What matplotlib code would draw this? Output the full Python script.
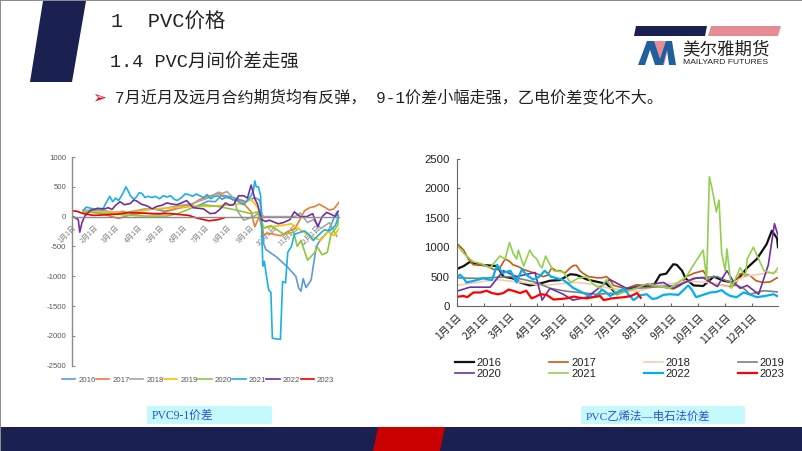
import matplotlib
matplotlib.use('Agg')
import matplotlib.pyplot as plt
from matplotlib.patches import Polygon, Rectangle, FancyBboxPatch

W, H = 802, 451
plt.rcParams['font.family'] = ['Liberation Mono', 'Noto Sans CJK SC', 'DejaVu Sans']

YEARS = ['2016', '2017', '2018', '2019', '2020', '2021', '2022', '2023']
MONTH_DAYS = [0, 31, 60, 91, 121, 152, 182, 213, 244, 274, 305, 335]
MONTH_LABELS = ['1月1日', '2月1日', '3月1日', '4月1日', '5月1日', '6月1日',
                '7月1日', '8月1日', '9月1日', '10月1日', '11月1日', '12月1日']
LEFT_TICKS = [1000, 500, 0, -500, -1000, -1500, -2000, -2500]
RIGHT_TICKS = [0, 500, 1000, 1500, 2000, 2500]

# --- PVC 9-1 spread
L2016_d = [16, 24, 32, 44, 56, 70, 84, 98, 112, 126, 140, 154, 170, 186, 196, 205, 214, 226, 238, 250, 256, 259, 262, 265, 280, 295, 306, 310, 313, 316, 320, 327, 334, 340, 350, 362, 365]
L2016_v = [60, 90, 70, 100, 60, 90, 50, 110, 130, 90, 120, 190, 170, 260, 250, 360, 340, 300, 250, 320, 280, 150, -450, -550, -680, -850, -1000, -1200, -1250, -1040, -1190, -1060, -500, -380, -250, 80, -50]
L2017_d = [16, 30, 44, 52, 64, 80, 100, 120, 140, 160, 175, 190, 200, 208, 215, 224, 232, 245, 250, 256, 262, 270, 285, 295, 305, 318, 325, 332, 338, 345, 352, 358, 365]
L2017_v = [90, 70, 40, 10, -30, 30, 60, 40, 130, 170, 290, 350, 390, 330, 310, 270, 260, 80, -170, 0, -300, -280, -320, -250, -200, 100, 150, 170, 210, 160, 110, 130, 240]
L2018_d = [16, 40, 70, 100, 120, 140, 165, 190, 200, 206, 212, 222, 226, 235, 248, 258, 262, 295, 305, 312, 322, 330, 340, 352, 362]
L2018_v = [110, 100, 60, 130, 120, 170, 220, 330, 410, 390, 420, 300, 100, -60, 0, 80, 0, 0, 0, 60, -100, -50, -200, -100, -330]
L2019_d = [16, 40, 70, 90, 110, 140, 170, 190, 215, 235, 245, 254, 262, 285, 300, 322, 340, 350, 358, 365]
L2019_v = [90, 80, 70, 80, 130, 150, 180, 170, 200, 220, 290, 150, -190, -150, -120, -300, -400, -250, -320, -200]
L2020_d = [16, 40, 70, 100, 130, 145, 165, 180, 200, 225, 245, 253, 262, 272, 290, 303, 308, 313, 322, 332, 335, 342, 349, 354, 363, 365]
L2020_v = [80, 60, 30, 10, 10, 50, 150, 200, 170, 110, 50, 80, -190, -150, -300, -260, -500, -400, -730, -600, -500, -640, -600, -300, -150, 0]
L2021_d = [16, 20, 26, 32, 38, 42, 46, 52, 56, 60, 64, 70, 74, 78, 80, 84, 88, 92, 96, 100, 104, 110, 114, 120, 125, 130, 135, 140, 144, 150, 155, 160, 165, 170, 175, 180, 185, 190, 195, 200, 205, 210, 215, 220, 225, 230, 235, 240, 244, 248, 250, 252, 255, 258, 261, 263, 266, 269, 272, 274, 285, 288, 292, 295, 300, 304, 310, 318, 324, 330, 337, 345, 352, 360, 365]
L2021_v = [110, 160, 140, 120, 130, 110, 210, 340, 250, 310, 270, 390, 500, 410, 350, 300, 320, 400, 390, 320, 340, 320, 340, 300, 350, 330, 350, 290, 270, 320, 380, 370, 340, 380, 350, 320, 370, 300, 340, 350, 290, 320, 330, 280, 280, 230, 200, 280, 330, 430, 600, 500, 500, 350, -830, -750, -1000, -1230, -1270, -2040, -2060, -1090, -1110, -600, -500, -300, -270, -240, -300, -400, -310, -220, -240, -150, 30]
L2022_d = [2, 9, 11, 14, 18, 25, 35, 45, 50, 55, 60, 66, 72, 80, 85, 89, 95, 103, 110, 116, 123, 130, 137, 144, 150, 157, 162, 166, 173, 180, 189, 196, 203, 210, 216, 221, 228, 235, 240, 245, 250, 254, 259, 265, 270, 274, 282, 289, 298, 304, 312, 321, 329, 336, 342, 348, 354, 360, 364]
L2022_v = [0, -50, -260, -100, 10, 100, 140, 130, 150, 120, 190, 250, 200, 220, 280, 260, 210, 180, 130, 170, 190, 230, 210, 200, 230, 270, 200, 150, 140, 130, 50, 60, 130, 230, 190, 200, 350, 350, 310, 530, 300, 200, -50, -80, -60, -80, -120, -100, -50, 80, 0, 0, 50, -170, 0, 70, 40, 0, 90]
L2023_d = [0, 7, 16, 30, 45, 60, 80, 110, 135, 160, 170, 187, 200, 208]
L2023_v = [100, 90, 50, 20, 30, 40, 70, 50, 50, 20, -20, -70, -50, -20]

# --- PVC ethylene - carbide spread
R2016_d = [2, 8, 15, 26, 46, 53, 64, 72, 83, 94, 106, 117, 129, 136, 148, 163, 170, 182, 197, 212, 223, 231, 238, 246, 250, 256, 260, 269, 280, 292, 303, 314, 322, 330, 341, 352, 358, 364, 365]
R2016_v = [640, 680, 750, 700, 680, 500, 470, 400, 350, 380, 430, 440, 540, 530, 450, 400, 380, 200, 300, 340, 330, 530, 550, 710, 700, 600, 470, 350, 340, 500, 430, 400, 500, 650, 800, 1050, 1280, 1150, 1000]
R2017_d = [2, 8, 13, 19, 26, 34, 42, 48, 55, 60, 64, 70, 76, 84, 91, 98, 103, 108, 113, 118, 123, 129, 133, 136, 140, 144, 150, 159, 165, 170, 174, 178, 186, 193, 204, 215, 231, 246, 254, 261, 270, 280, 288, 295, 303, 311, 316, 322, 333, 340, 348, 356, 364]
R2017_v = [1040, 950, 800, 700, 700, 680, 620, 620, 800, 760, 700, 670, 620, 580, 550, 500, 520, 650, 600, 600, 560, 650, 690, 690, 600, 550, 500, 480, 480, 500, 450, 350, 320, 300, 360, 350, 330, 290, 350, 500, 560, 600, 400, 360, 350, 330, 350, 550, 520, 430, 400, 410, 480]
R2018_d = [0, 23, 45, 70, 98, 118, 136, 155, 174, 204, 231, 261, 288, 307, 326, 349, 364]
R2018_v = [350, 400, 450, 410, 350, 380, 400, 370, 300, 250, 350, 420, 400, 330, 500, 550, 580]
R2019_d = [0, 23, 61, 91, 106, 125, 159, 182, 204, 250, 273, 296, 311, 326, 333, 349, 364]
R2019_v = [480, 470, 500, 400, 300, 250, 200, 220, 300, 350, 480, 500, 400, 300, 200, 260, 240]
R2020_d = [0, 15, 38, 53, 68, 89, 97, 106, 121, 132, 148, 174, 193, 212, 235, 246, 269, 280, 296, 307, 315, 322, 330, 343, 354, 361, 365]
R2020_v = [250, 320, 320, 600, 500, 570, 100, 300, 200, 100, 150, 450, 300, 350, 400, 300, 470, 480, 330, 600, 400, 300, 350, 200, 700, 1400, 1200]
R2021_d = [0, 9, 19, 28, 38, 49, 55, 60, 64, 68, 70, 76, 83, 87, 91, 94, 97, 101, 106, 110, 121, 129, 138, 148, 155, 163, 170, 182, 204, 216, 242, 261, 269, 280, 284, 287, 290, 295, 298, 301, 305, 307, 312, 322, 328, 330, 337, 343, 349, 360, 365]
R2021_v = [1040, 880, 750, 720, 650, 850, 800, 1080, 900, 800, 950, 680, 950, 850, 800, 700, 650, 850, 700, 600, 580, 400, 470, 500, 370, 300, 450, 200, 300, 380, 300, 500, 700, 950, 450, 2200, 2000, 1600, 1800, 900, 600, 970, 300, 650, 500, 800, 1000, 800, 600, 550, 650]
R2022_d = [0, 4, 8, 11, 20, 30, 40, 46, 52, 61, 68, 74, 80, 87, 94, 100, 107, 114, 120, 125, 132, 140, 148, 155, 160, 165, 170, 174, 182, 190, 196, 201, 208, 216, 222, 227, 235, 242, 252, 263, 267, 272, 280, 288, 295, 301, 306, 311, 318, 326, 334, 341, 350, 360, 364]
R2022_v = [500, 530, 470, 400, 430, 470, 440, 700, 560, 600, 400, 620, 520, 450, 500, 600, 500, 470, 450, 400, 310, 250, 190, 150, 190, 280, 230, 170, 230, 300, 180, 100, 180, 200, 120, 130, 190, 200, 190, 350, 280, 150, 190, 230, 240, 270, 210, 170, 150, 230, 190, 150, 170, 200, 170]
R2023_d = [2, 8, 12, 19, 27, 34, 40, 47, 53, 59, 66, 72, 79, 85, 90, 95, 102, 110, 118, 125, 133, 140, 148, 155, 163, 167, 176, 190, 198, 205, 209]
R2023_v = [160, 170, 150, 230, 230, 260, 220, 200, 220, 280, 250, 220, 260, 130, 160, 200, 190, 110, 120, 130, 160, 140, 130, 150, 170, 100, 130, 150, 170, 220, 140]

LEFT_SERIES = [(L2016_d, L2016_v), (L2017_d, L2017_v), (L2018_d, L2018_v), (L2019_d, L2019_v),
               (L2020_d, L2020_v), (L2021_d, L2021_v), (L2022_d, L2022_v), (L2023_d, L2023_v)]
RIGHT_SERIES = [(R2016_d, R2016_v), (R2017_d, R2017_v), (R2018_d, R2018_v), (R2019_d, R2019_v),
                (R2020_d, R2020_v), (R2021_d, R2021_v), (R2022_d, R2022_v), (R2023_d, R2023_v)]

LEFT_COLORS = ['#5B9BD5', '#ED7D31', '#A5A5A5', '#FFC000', '#8CC63F', '#1AB0E8', '#7030A0', '#F00000']
RIGHT_COLORS = ['#111111', '#C55A11', '#F8CBAD', '#7F7F7F', '#7030A0', '#92D050', '#00B0F0', '#FF0000']

NAVY = '#1A2050'

fig = plt.figure(figsize=(W / 100, H / 100), dpi=100)
bg = fig.add_axes([0, 0, 1, 1])
bg.set_xlim(0, W)
bg.set_ylim(H, 0)
bg.axis('off')

# page frame and decoration
bg.add_patch(Rectangle((0, 0), W, 1.2, color='#8C8C8C', lw=0))
bg.add_patch(Rectangle((0, 0), 1.0, H, color='#8C8C8C', lw=0))
bg.add_patch(Polygon([(43, 1), (86, 1), (72, 82), (30, 82)], color=NAVY, lw=0))
bg.add_patch(Rectangle((1, 426.5), W, 1, color='#A0A4B4', lw=0))
bg.add_patch(Rectangle((1, 427), W, 24, color=NAVY, lw=0))
bg.add_patch(Polygon([(378, 427), (445, 427), (440, 451), (373, 451)], color='#C80000', lw=0))

# logo
bg.add_patch(Polygon([(636, 26), (707, 26), (705, 36), (634, 36)], color=NAVY, lw=0))
bg.add_patch(Polygon([(711, 26), (781, 26), (778, 36), (708, 36)], color='#E88C94', lw=0))
bg.add_patch(Polygon([(650, 41), (670, 41), (664, 65), (656, 65)], color='#E88C94', lw=0))
bg.add_patch(Polygon([(638, 65), (647, 41), (654, 41), (662, 65), (655, 65), (650, 50), (645, 65)], color='#1F5F9E', lw=0))
bg.add_patch(Polygon([(658, 65), (666, 41), (672, 41), (676, 65), (669, 65), (667, 50), (663, 65)], color='#1F5F9E', lw=0))
bg.text(682, 49, '美尔雅期货', fontsize=12.6, color='#222222', va='center', ha='left', family=['Noto Sans CJK SC'])
bg.text(683, 62, 'MAILYARD FUTURES', fontsize=6.1, color='#222222', va='center', ha='left', family=['Liberation Sans'])

# headings
bg.text(111, 21, '1  PVC价格', fontsize=14.7, color='#222222', va='center', ha='left')
bg.text(110, 63, '1.4 PVC月间价差走强', fontsize=13.3, color='#222222', va='center', ha='left')
bg.text(92, 98, '➢', fontsize=12, color='#E00010', va='center', ha='left', family=['DejaVu Sans'])
bg.text(115, 98, '7月近月及远月合约期货均有反弹， 9-1价差小幅走强，乙电价差变化不大。',
        fontsize=11.6, color='#222222', va='center', ha='left')

# caption boxes
for x0, x1, label, fs in [(146, 273, 'PVC9-1价差', 8.4), (580, 746, 'PVC乙烯法—电石法价差', 8.2)]:
    bg.add_patch(FancyBboxPatch((x0 + 1, 406), x1 - x0 - 2, 18, boxstyle='round,pad=0,rounding_size=2',
                                fc='#C4FAFC', ec='none'))
    bg.text(x0 + 6, 416, label, fontsize=fs, color='#2B50D8', va='center', ha='left',
            family=['Liberation Serif', 'Noto Sans CJK SC'])


def px_axes(x0, x1, y_top, y_bot):
    return fig.add_axes([x0 / W, 1 - y_bot / H, (x1 - x0) / W, (y_bot - y_top) / H], facecolor='none')


# left chart
axL = px_axes(71.7, 339, 157, 365.7)
axL.spines['bottom'].set_position(('data', 0))
for (d, v), c, y in zip(LEFT_SERIES, LEFT_COLORS, YEARS):
    axL.plot(d, v, color=c, lw=1.2, label=y, solid_joinstyle='round')
axL.set_xlim(0, 365)
axL.set_ylim(-2500, 1000)
axL.set_yticks(LEFT_TICKS)
axL.set_yticklabels([str(t) for t in LEFT_TICKS], family=['Liberation Sans'], fontsize=5.6, color='#595959')
axL.tick_params(axis='y', direction='in', length=2.5, width=.8, color='#8C8C8C', pad=4)
axL.set_xticks(MONTH_DAYS)
axL.set_xticklabels(MONTH_LABELS, rotation=45, ha='right', rotation_mode='anchor', fontsize=5.1, color='#7F7F7F',
                    family=['Noto Sans CJK SC'])
axL.tick_params(axis='x', length=0, pad=5)
for s in ['top', 'right']:
    axL.spines[s].set_visible(False)
axL.spines['bottom'].set_color('#8C8C8C')
axL.spines['bottom'].set_linewidth(1.0)
axL.spines['left'].set_color('#8C8C8C')
axL.spines['left'].set_linewidth(1.0)
axL.legend(loc='upper left', bbox_to_anchor=(-0.036, -0.05), ncol=8, frameon=False,
           labelcolor='#595959', handlelength=1.7, handletextpad=0.4, columnspacing=0.05, borderpad=0,
           borderaxespad=0, prop={'family': 'Liberation Sans', 'size': 5.6})

# right chart
axR = px_axes(456.7, 778, 159, 306)
for (d, v), c, y in zip(RIGHT_SERIES, RIGHT_COLORS, YEARS):
    axR.plot(d, v, color=c, lw=1.2 if y not in ('2016', '2022', '2023') else 1.6, label=y, solid_joinstyle='round')
axR.set_xlim(0, 365)
axR.set_ylim(0, 2500)
axR.set_yticks(RIGHT_TICKS)
axR.set_yticklabels([str(t) for t in RIGHT_TICKS], family=['Liberation Sans'])
axR.tick_params(axis='y', direction='in', labelsize=8.2, labelcolor='#222222', length=2.5, width=.8, color='#666666', pad=5)
axR.set_xticks(MONTH_DAYS)
axR.set_xticklabels(MONTH_LABELS, rotation=45, ha='right', rotation_mode='anchor', fontsize=7.4, color='#222222',
                    family=['Noto Sans CJK SC'])
axR.tick_params(axis='x', direction='in', length=2, width=.8, color='#666666', pad=4)
for s in ['top', 'right']:
    axR.spines[s].set_visible(False)
axR.spines['bottom'].set_color('#666666')
axR.spines['left'].set_color('#666666')
axR.spines['bottom'].set_linewidth(.8)
axR.spines['left'].set_linewidth(.8)
handles, labels = axR.get_legend_handles_labels()
order = [0, 4, 1, 5, 2, 6, 3, 7]
axR.legend([handles[i] for i in order], [labels[i] for i in order], loc='upper left',
           bbox_to_anchor=(-0.005, -0.355), ncol=4, frameon=False,
           handlelength=1.7, handletextpad=0.25, columnspacing=4.3, labelspacing=0.1, borderpad=0,
           borderaxespad=0, prop={'family': 'Liberation Sans', 'size': 8}, labelcolor='#222222')

fig.savefig('out.png', dpi=100)
